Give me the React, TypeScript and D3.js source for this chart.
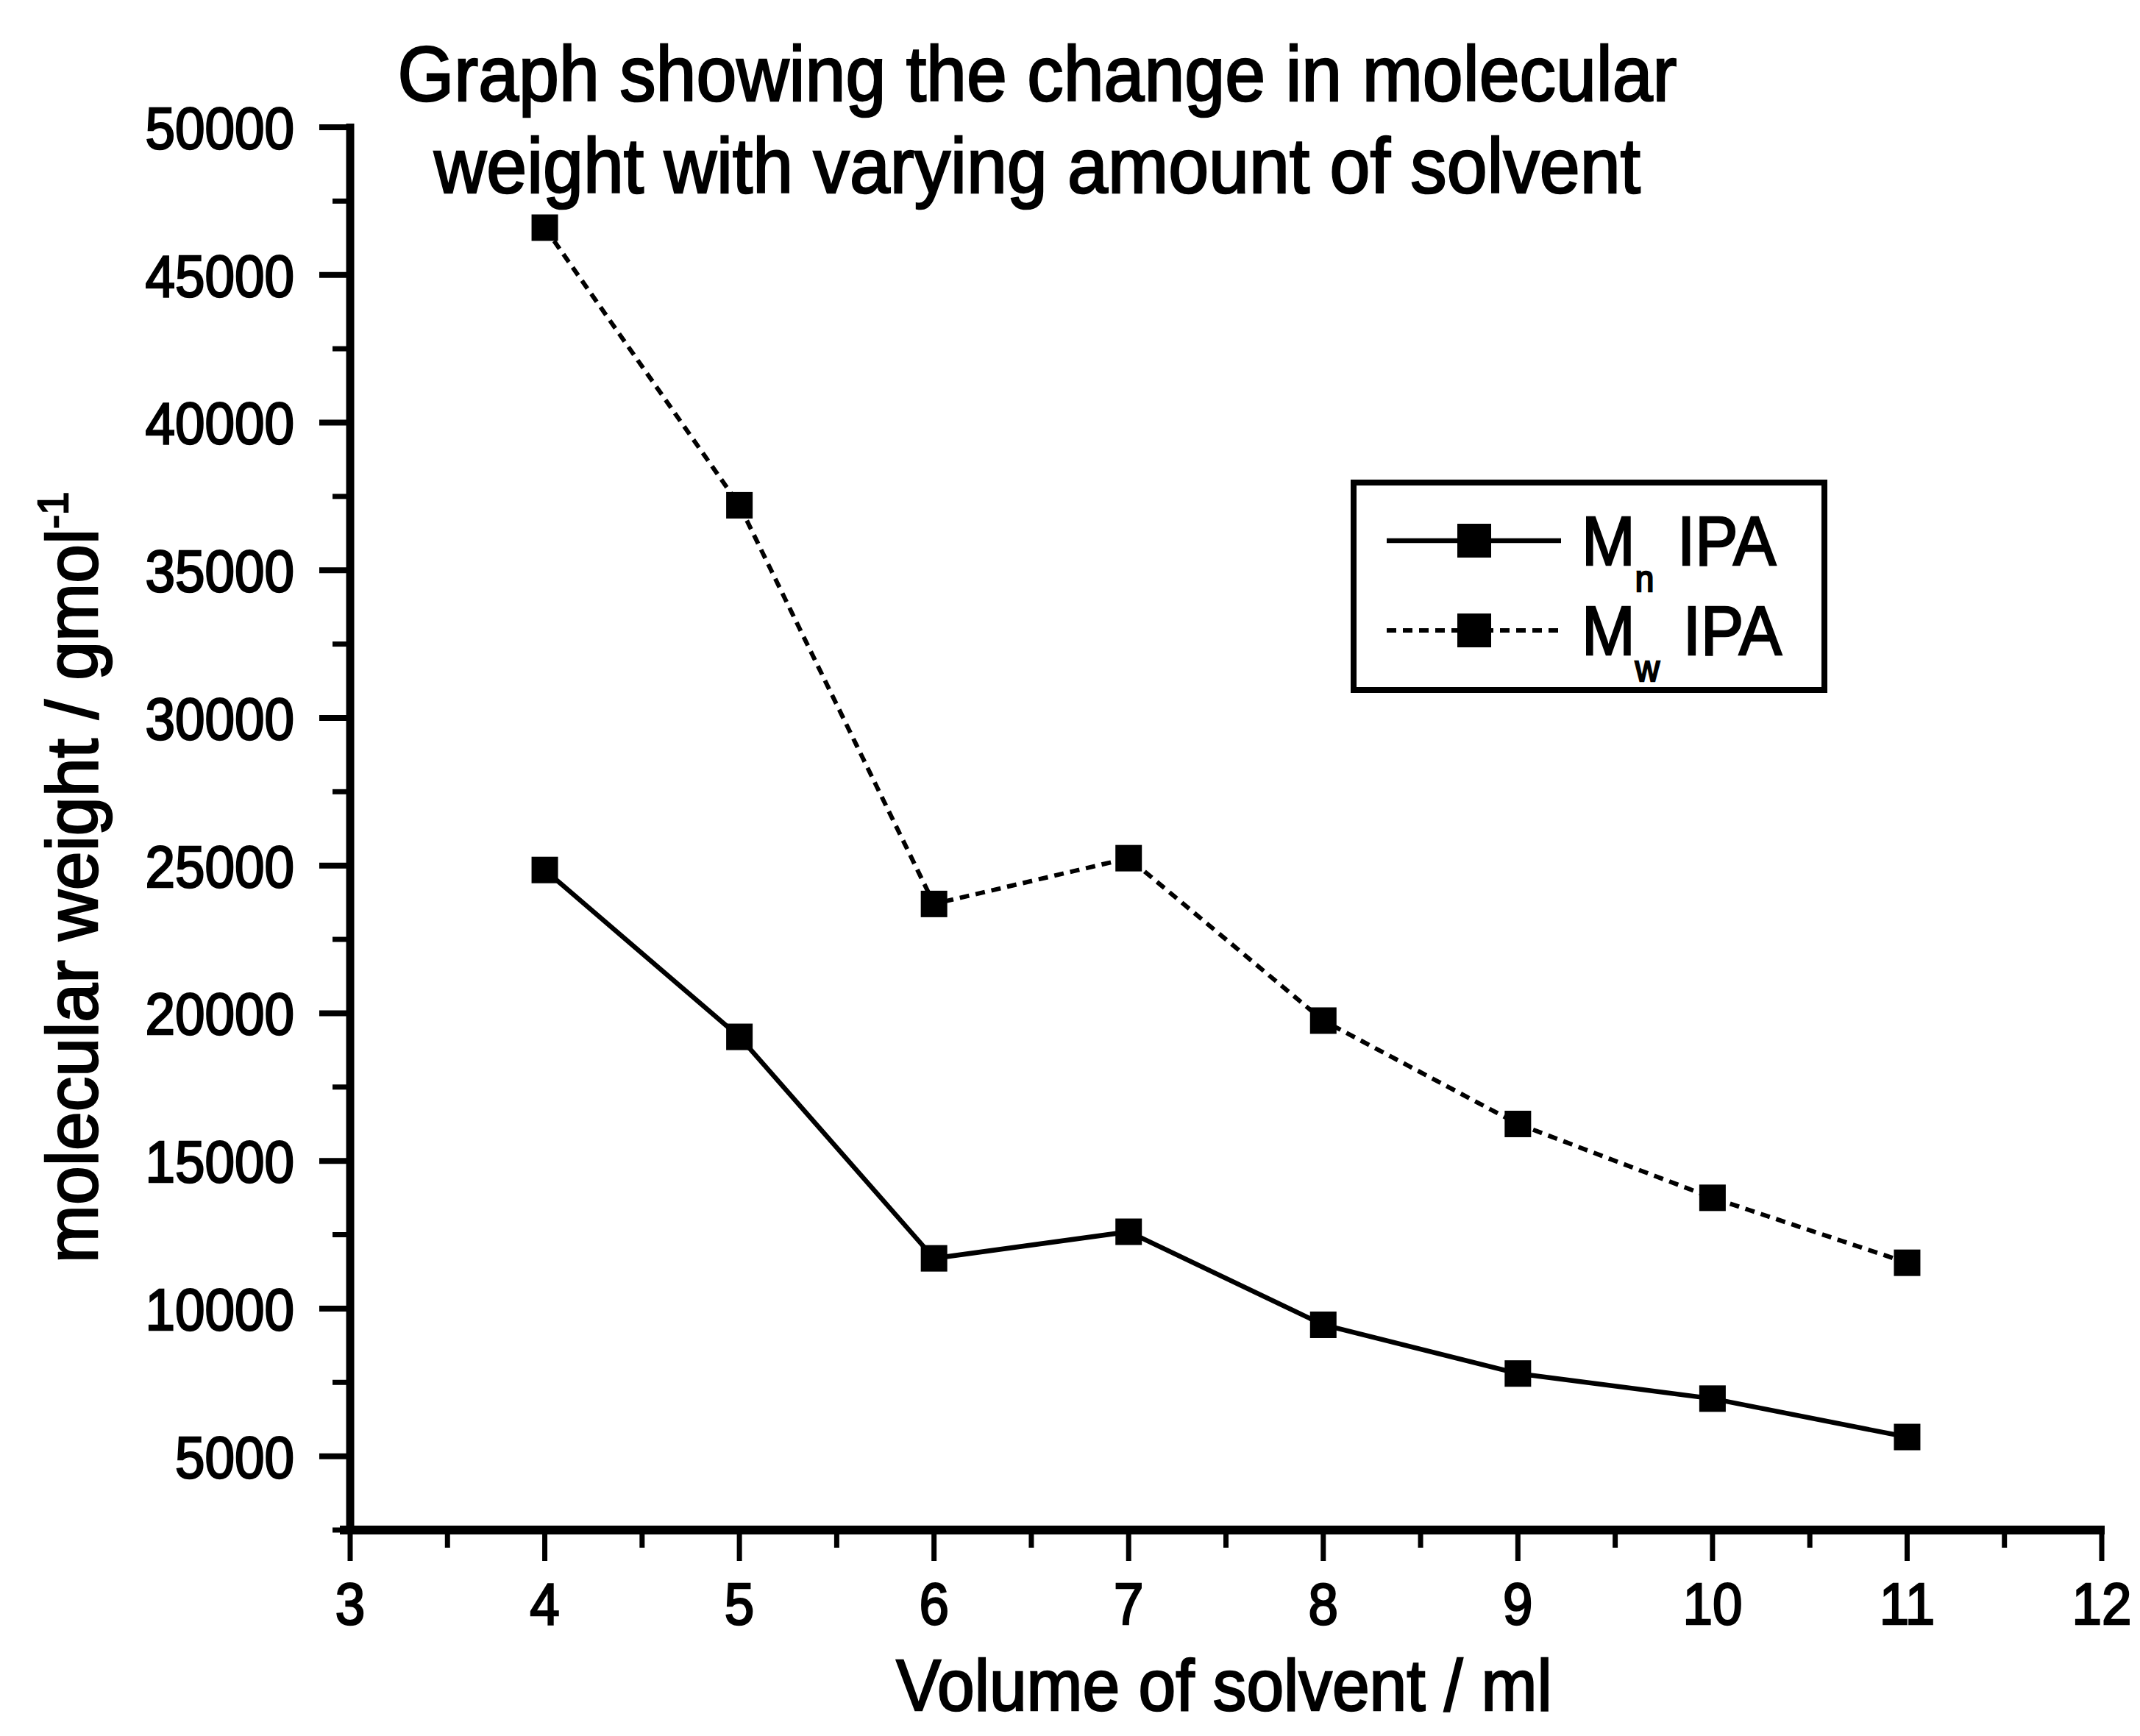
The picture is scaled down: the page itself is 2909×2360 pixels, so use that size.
import React from "react";
import * as d3 from "d3";

const volumes = [4, 5, 6, 7, 8, 9, 10, 11];
const mnIPA = [24850, 19200, 11700, 12600, 9450, 7800, 6950, 5650];
const mwIPA = [46600, 37200, 23700, 25250, 19750, 16250, 13750, 11550];
const xTicks = [3, 4, 5, 6, 7, 8, 9, 10, 11, 12];
const xMinor = [3.5, 4.5, 5.5, 6.5, 7.5, 8.5, 9.5, 10.5, 11.5];
const yTicks = [5000, 10000, 15000, 20000, 25000, 30000, 35000, 40000, 45000, 50000];
const yMinor = [2500, 7500, 12500, 17500, 22500, 27500, 32500, 37500, 42500, 47500];
const titleLines = ["Graph showing the change in molecular", "weight with varying amount of solvent"];
const xLabel = "Volume of solvent / ml";
const yLabel = "molecular weight / gmol";
const legendItems = [
  { sub: "n", dashed: false },
  { sub: "w", dashed: true },
];

const FONT = "'Liberation Sans', Arial, sans-serif";

function T({ x, y, size, sx = 0.92, anchor = "middle", rotate = 0, children }: any) {
  return (
    <text
      transform={`translate(${x},${y}) rotate(${rotate}) scale(${sx},1)`}
      fontFamily={FONT}
      fontSize={size}
      textAnchor={anchor}
      fill="#000"
      stroke="#000"
      strokeWidth={2.5}
    >
      {children}
    </text>
  );
}

export default function App() {
  const x = d3.scaleLinear().domain([3, 12]).range([476, 2857]);
  const y = d3.scaleLinear().domain([2500, 50000]).range([2080, 173]);
  const line = d3
    .line<number>()
    .x((_, i) => x(volumes[i]))
    .y((d) => y(d));
  const ms = 36;
  const lms = 46;
  const solidW = 6.5;
  const dashW = 6;
  const dash = "13,9";

  return (
    <svg
      width={2909}
      height={2360}
      style={{ position: "absolute", left: 0, top: 0, background: "#fff" }}
    >
      <rect width={2909} height={2360} fill="#fff" />
      {titleLines.map((t, i) => (
        <T key={t} x={1410} y={137 + i * 125} size={105} sx={0.94}>
          {t}
        </T>
      ))}

      {/* axes */}
      <line x1={x(3)} x2={x(3)} y1={y(50000) - 5} y2={y(2500)} stroke="#000" strokeWidth={11} />
      <line x1={x(3) - 14} x2={x(12) + 4} y1={y(2500)} y2={y(2500)} stroke="#000" strokeWidth={12} />
      {yTicks.map((v) => (
        <g key={v}>
          <line x1={x(3) - 42} x2={x(3)} y1={y(v)} y2={y(v)} stroke="#000" strokeWidth={8} />
          <T x={400} y={y(v) + 29} size={80} sx={0.91} anchor="end">
            {v}
          </T>
        </g>
      ))}
      {yMinor.map((v) => (
        <line key={v} x1={x(3) - 24} x2={x(3)} y1={y(v)} y2={y(v)} stroke="#000" strokeWidth={7} />
      ))}
      {xTicks.map((v) => (
        <g key={v}>
          <line x1={x(v)} x2={x(v)} y1={y(2500)} y2={y(2500) + 42} stroke="#000" strokeWidth={7} />
          <T x={x(v)} y={2208} size={80} sx={0.91}>
            {v}
          </T>
        </g>
      ))}
      {xMinor.map((v) => (
        <line key={v} x1={x(v)} x2={x(v)} y1={y(2500)} y2={y(2500) + 24} stroke="#000" strokeWidth={7} />
      ))}

      {/* axis labels */}
      <T x={1664} y={2325} size={98} sx={0.93}>
        {xLabel}
      </T>
      <T x={132} y={1193} size={98} sx={0.97} rotate={-90}>
        {yLabel}
        <tspan fontSize={58} dy={-40}>
          -1
        </tspan>
      </T>

      {/* series */}
      <path d={line(mwIPA) || ""} fill="none" stroke="#000" strokeWidth={dashW} strokeDasharray={dash} />
      <path d={line(mnIPA) || ""} fill="none" stroke="#000" strokeWidth={solidW} />
      {mwIPA.map((v, i) => (
        <rect key={"w" + i} x={x(volumes[i]) - ms / 2} y={y(v) - ms / 2} width={ms} height={ms} fill="#000" />
      ))}
      {mnIPA.map((v, i) => (
        <rect key={"n" + i} x={x(volumes[i]) - ms / 2} y={y(v) - ms / 2} width={ms} height={ms} fill="#000" />
      ))}

      {/* legend */}
      <rect x={1840} y={656} width={640} height={282} fill="#fff" stroke="#000" strokeWidth={8} />
      {legendItems.map((it, i) => {
        const cy = 735 + i * 122;
        return (
          <g key={it.sub}>
            <line
              x1={1885}
              x2={2122}
              y1={cy}
              y2={cy}
              stroke="#000"
              strokeWidth={it.dashed ? dashW : solidW}
              strokeDasharray={it.dashed ? dash : undefined}
            />
            <rect x={2004 - lms / 2} y={cy - lms / 2} width={lms} height={lms} fill="#000" />
            <T x={2150} y={cy + 33} size={95} sx={0.92} anchor="start">
              M
              <tspan fontSize={50} dy={36}>
                {it.sub}
              </tspan>
              <tspan dy={-36} dx={8}>
                {" IPA"}
              </tspan>
            </T>
          </g>
        );
      })}
    </svg>
  );
}
